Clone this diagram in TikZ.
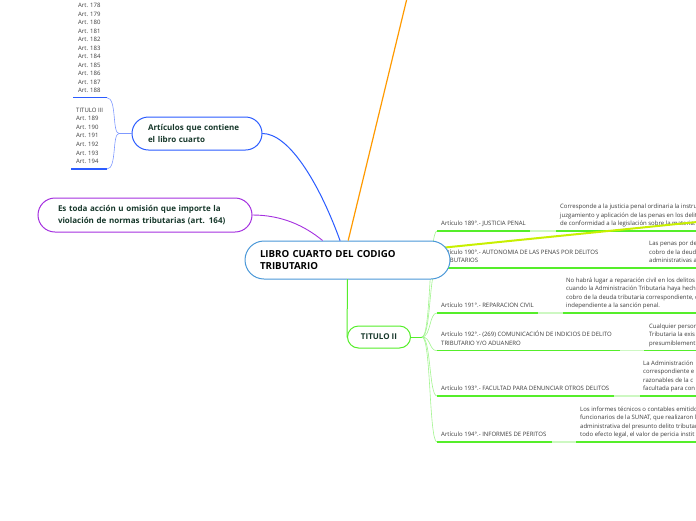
\documentclass[tikz,border=0pt]{standalone}
\usepackage{fontspec}
\setmainfont{Open Sans}
\usetikzlibrary{positioning}
\definecolor{azul}{HTML}{2B5CFF}
\definecolor{azulclaro}{HTML}{7F99FF}
\definecolor{celeste}{HTML}{4A98D8}
\definecolor{morado}{HTML}{A531E0}
\definecolor{naranja}{HTML}{FF9A00}
\definecolor{verde}{HTML}{55EE2A}
\definecolor{verdeclaro}{HTML}{A3F590}
\definecolor{verdepalido}{HTML}{CDF8C2}
\definecolor{amarillo}{HTML}{C8F000}
\definecolor{verdeosc}{HTML}{17382B}
\definecolor{gristexto}{HTML}{3C3C3C}
\begin{document}
\begin{tikzpicture}[x=1pt, y=-1pt,
		caja/.style={draw, fill=white, line width=1pt, inner ysep=0pt, align=left, text=verdeosc, font=\bfseries\fontsize{8}{11.5}\selectfont},
		rama/.style={line width=1pt, line cap=round},
		ramita/.style={line width=0.6pt, line cap=round, verdeclaro},
		subrayado/.style={line width=1.5pt, verde},
		subclaro/.style={line width=1.5pt, verdepalido},
		barra/.style={line width=1.3pt, azul},
		textoart/.style={anchor=south west, inner sep=0pt, align=left, text=gristexto, font=\fontsize{6}{8.4}\selectfont, execute at end node=\strut},
		lista/.style={anchor=base west, inner sep=0pt, text=gristexto, font=\fontsize{6}{8.5}\selectfont},
		]
		\fill[white] (0,0) rectangle (696,520);
		\useasboundingbox (0,0) rectangle (696,520);
		\clip (0,0) rectangle (696,520);
		
		%% =========================================================
		%% lista de articulos (izquierda)
		%% =========================================================
		\foreach \n [count=\i from 0] in {178,...,188}
		\node[lista] (a\n) at (78,{7.7+8.5*\i}) {Art. \n};
		\node[lista] (tit3) at (76,112.3) {TITULO III};
		\foreach \n [count=\i] in {189,...,194}
		\node[lista] (b\n) at (76,{112.3+8.55*\i}) {Art. \n};
		%% barras y llave
		\coordinate (barAi) at (73,97.7);  \coordinate (barA) at (107,97.7);
		\coordinate (barBi) at (71,169);   \coordinate (barB) at (107,169);
		\coordinate (llave) at (119,133.5);
		\draw[barra] (barAi) -- (barA);
		\draw[barra] (barBi) -- (barB);
		\draw[line width=0.6pt, azulclaro] (barA) .. controls (117,98) and (112,133.5) .. (llave);
		\draw[line width=0.6pt, azulclaro] (barB) .. controls (117,169) and (112,133.5) .. (llave);
		
		%% =========================================================
		%% nodos de la izquierda
		%% =========================================================
		\node[caja, draw=azul, rounded corners=16.5pt, minimum height=33pt, inner xsep=16pt, text width=98pt] (articulos) at (197,133.5) {Artículos que contiene\\el libro cuarto};
		\node[caja, draw=morado, rounded corners=17pt, minimum height=34pt, inner xsep=20pt, text width=174pt] (delito) at (145,215) {Es toda acción u omisión que importe la\\violación de normas tributarias (art. 164)};
		\draw[line width=0.6pt, azulclaro] (llave) -- (articulos.west);
		
		%% =========================================================
		%% TITULO II y sus articulos
		%% =========================================================
		\node[caja, draw=verde, rounded corners=11pt, minimum width=63pt, minimum height=22pt, inner xsep=0pt, align=center] (titulo) at (379,337) {TITULO II};
		\draw[rama, verde] (titulo.east) -- ++(11,0) coordinate (nodoT);
		\foreach \k/\y/\xa/\xb/\xd/\art/\det in {
			189/231/530/556/560/{Artículo 189°.- JUSTICIA PENAL}/{Corresponde a la justicia penal ordinaria la instru\\juzgamiento y aplicación de las penas en los delit\\de conformidad a la legislación sobre la materia.},
			190/268/603/603/649/{Artículo 190°.- AUTONOMIA DE LAS PENAS POR DELITOS\\TRIBUTARIOS}/{Las penas por de\\cobro de la deud\\administrativas a},
			191/313/538/563/566/{Artículo 191°.- REPARACION CIVIL}/{No habrá lugar a reparación civil en los delitos\\cuando la Administración Tributaria haya hech\\cobro de la deuda tributaria correspondiente, q\\independiente a la sanción penal.},
			192/350.7/620/644/649/{Artículo 192°.- (269) COMUNICACIÓN DE INDICIOS DE DELITO\\TRIBUTARIO Y/O ADUANERO}/{Cualquier person\\Tributaria la exis\\presumiblement},
			193/396/614/640/643/{Artículo 193°.- FACULTAD PARA DENUNCIAR OTROS DELITOS}/{La Administración\\correspondiente e\\razonables de la c\\facultada para con},
			194/442/552/576/580/{Artículo 194°.- INFORMES DE PERITOS}/{Los informes técnicos o contables emitido\\funcionarios de la SUNAT, que realizaron l\\administrativa del presunto delito tributar\\todo efecto legal, el valor de pericia instit}}{
			\coordinate (s\k) at (437,\y);
			\draw[ramita] (nodoT) .. controls (431,337) and (429,\y) .. (s\k);
			\draw[subrayado] (s\k) -- (\xa,\y);
			\draw[subclaro] (\xa,\y) -- (\xb,\y);
			\draw[subrayado] (\xb,\y) -- (700,\y);
			\node[textoart] (art\k) at (441,\y-2.7) {\art};
			\node[textoart] (det\k) at (\xd,\y-2.7) {\det};}
		
		%% =========================================================
		%% nodo central y conectores
		%% =========================================================
		%% rama amarilla (sale del cuadro), debajo del nodo central
		\coordinate (inicioAm) at (440,248);
		\coordinate (derecha) at (700,221.7);
		\draw[line width=2pt, amarillo] (inicioAm) -- (derecha);
		\coordinate (arriba) at (409,-10);
		\node[caja, draw=celeste, rounded corners=19pt, minimum height=38pt, inner xsep=15pt, text width=175pt, text=black, font=\bfseries\fontsize{9.7}{12}\selectfont] (libro) at (347.5,260) {LIBRO CUARTO DEL CODIGO\\TRIBUTARIO};
		\draw[rama, azul] (articulos.east) .. controls (288,133.5) and (318,180) .. (libro.111);
		\draw[line width=0.9pt, morado] (delito.east) .. controls (282,215) and (305,226) .. (libro.142);
		\draw[line width=1.2pt, naranja] (libro.88) -- (arriba);
		\draw[rama, verde] (libro.south) -- (titulo.west);
\end{tikzpicture}
\end{document}
